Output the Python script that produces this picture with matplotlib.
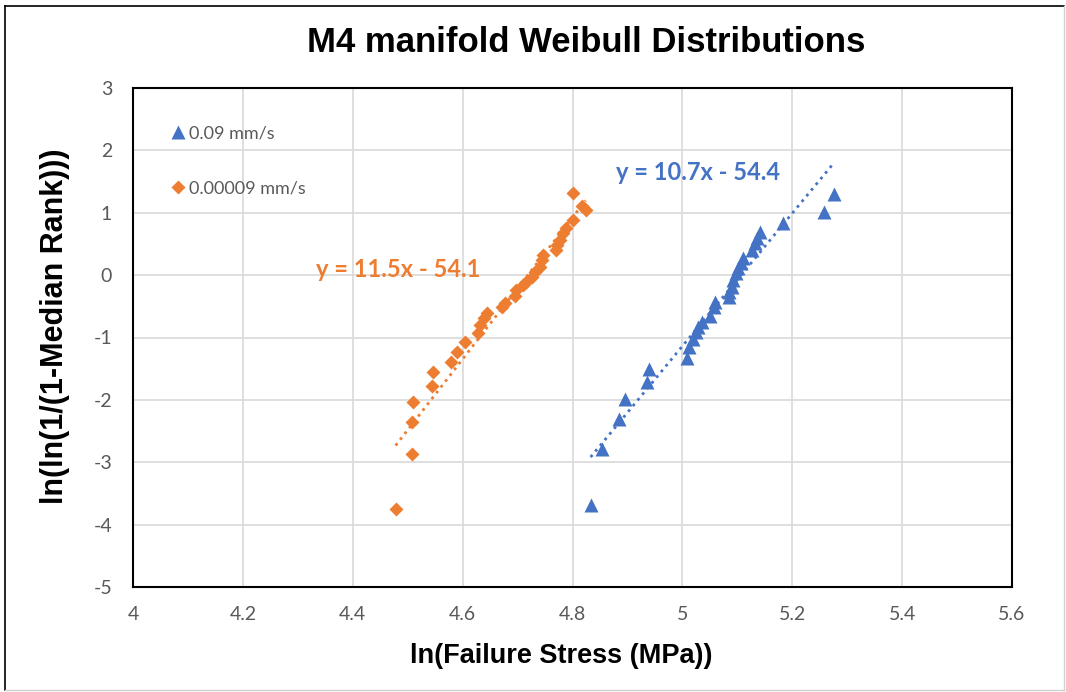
import matplotlib.pyplot as plt
import numpy as np
from matplotlib.lines import Line2D

plt.rcParams["font.family"] = ["Liberation Sans", "DejaVu Sans"]
plt.rcParams["axes.unicode_minus"] = False

BLUE = "#4472C4"
ORANGE = "#ED7D31"
GREY = "#595959"

# 0.09 mm/s series (ln stress, ln(ln(1/(1-median rank))))
fast_x = [4.833, 4.854, 4.884, 4.895, 4.935, 4.939, 5.009, 5.012, 5.020, 5.025,
          5.029, 5.036, 5.051, 5.057, 5.060, 5.085, 5.085, 5.090, 5.092, 5.097,
          5.102, 5.106, 5.111, 5.126, 5.132, 5.135, 5.141, 5.183, 5.258, 5.276]
fast_y = [-3.69, -2.79, -2.30, -1.98, -1.71, -1.50, -1.33, -1.15, -1.02, -0.91,
          -0.83, -0.75, -0.65, -0.51, -0.43, -0.35, -0.27, -0.19, -0.08, 0.03,
          0.11, 0.19, 0.27, 0.40, 0.51, 0.59, 0.69, 0.84, 1.01, 1.30]

# 0.00009 mm/s series
slow_x = [4.478, 4.507, 4.508, 4.510, 4.545, 4.546, 4.579, 4.590, 4.604, 4.628,
          4.632, 4.638, 4.644, 4.671, 4.677, 4.695, 4.698, 4.710, 4.716, 4.726,
          4.732, 4.740, 4.744, 4.747, 4.770, 4.771, 4.777, 4.782, 4.789, 4.800,
          4.817, 4.824, 4.800]
slow_y = [-3.75, -2.86, -2.36, -2.04, -1.78, -1.56, -1.39, -1.23, -1.08, -0.93,
          -0.80, -0.69, -0.61, -0.51, -0.45, -0.34, -0.24, -0.16, -0.11, -0.03,
          0.05, 0.13, 0.24, 0.32, 0.40, 0.48, 0.56, 0.67, 0.75, 0.88,
          1.11, 1.05, 1.32]

fast_label = "0.09 mm/s"
slow_label = "0.00009 mm/s"
fast_eq = "y = 10.7x - 54.4"
slow_eq = "y = 11.5x - 54.1"
x_ticks = [4, 4.2, 4.4, 4.6, 4.8, 5, 5.2, 5.4, 5.6]
x_ticklabels = ["4", "4.2", "4.4", "4.6", "4.8", "5", "5.2", "5.4", "5.6"]
y_ticks = [-5, -4, -3, -2, -1, 0, 1, 2, 3]

W, H = 1066, 692
fig = plt.figure(figsize=(W / 100, H / 100), dpi=100)
ax = fig.add_axes([133 / W, 1 - 587 / H, 879 / W, 499 / H])

# outer chart frame
fig.add_artist(Line2D([5 / W, 5 / W], [1 - 6 / H, 1 - 690 / H], color="black", lw=1.2))
fig.add_artist(Line2D([5 / W, 1064 / W], [1 - 6 / H, 1 - 6 / H], color="black", lw=1.2))
fig.add_artist(Line2D([1064 / W, 1064 / W], [1 - 6 / H, 1 - 690 / H], color="#d0d0d0", lw=1))
fig.add_artist(Line2D([5 / W, 1064 / W], [1 - 690 / H, 1 - 690 / H], color="#d0d0d0", lw=1))

ax.plot(fast_x, fast_y, "^", color=BLUE, ms=9.5, mec="none", label=fast_label, zorder=3)
ax.plot(slow_x, slow_y, "D", color=ORANGE, ms=7.5, mec="none", label=slow_label, zorder=3)

# linear trendlines, least squares like excel
for xs, ys, c in [(fast_x, fast_y, BLUE), (slow_x, slow_y, ORANGE)]:
    k, b = np.polyfit(xs, ys, 1)
    xx = np.array([min(xs), max(xs)])
    ax.plot(xx, k * xx + b, ":", color=c, lw=2, zorder=2)

ax.text(5.028, 1.65, fast_eq, color=BLUE, fontsize=17, fontweight="bold",
        family="Lato", ha="center", va="center")
ax.text(4.482, 0.09, slow_eq, color=ORANGE, fontsize=17, fontweight="bold",
        family="Lato", ha="center", va="center")

ax.set_xlim(4, 5.6)
ax.set_ylim(-5, 3)
ax.set_xticks(x_ticks)
ax.set_xticklabels(x_ticklabels)
ax.set_yticks(y_ticks)
ax.tick_params(length=0, labelsize=14, colors=GREY, pad=14)
ax.tick_params(axis="y", pad=15)
for lab in ax.get_xticklabels() + ax.get_yticklabels():
    lab.set_family("Lato")
ax.grid(True, color="#d9d9d9", lw=1.2)
ax.set_axisbelow(True)
for s in ax.spines.values():
    s.set_color("black")
    s.set_linewidth(1.5)

fig.text(561 / W, 1 - 656 / H, "ln(Failure Stress (MPa))", fontsize=19.5,
         fontweight="bold", ha="center", va="center")
fig.text(55 / W, 1 - 326 / H, "ln(ln(1/(1-Median Rank)))", fontsize=22,
         fontweight="bold", ha="center", va="center", rotation=90)
fig.text(586 / W, 1 - 42 / H, "M4 manifold Weibull Distributions", fontsize=25,
         fontweight="bold", ha="center", va="center")

leg = ax.legend(loc="upper left", bbox_to_anchor=(0.022, 0.958), frameon=False,
                prop={"family": "Lato", "size": 13}, labelspacing=2.15,
                handletextpad=0.15, handlelength=1.0)
for t in leg.get_texts():
    t.set_color(GREY)

fig.savefig("out.png", dpi=100)
